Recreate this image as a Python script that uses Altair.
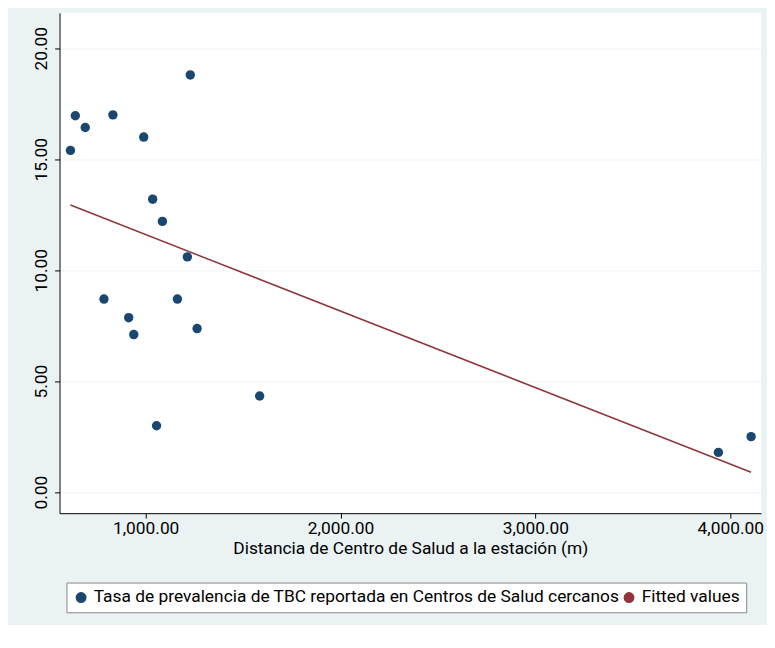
import altair as alt
import pandas as pd

# distance (m) and prevalence rate
distancia = [614, 639, 690, 832, 990, 1036, 1086, 1229, 1214, 786, 1163,
             913, 939, 1264, 1585, 1056, 3939, 4107]
tasa = [15.4, 16.96, 16.43, 17.0, 16.0, 13.2, 12.2, 18.8, 10.6, 8.7, 8.7,
        7.86, 7.1, 7.37, 4.33, 2.99, 1.79, 2.5]

lab_pts = "Tasa de prevalencia de TBC reportada en Centros de Salud cercanos"
lab_fit = "Fitted values"

df = pd.DataFrame({"dist": distancia, "tasa": tasa})

font = "Roboto"
fs = 17.5
x = alt.X("dist:Q", title="Distancia de Centro de Salud a la estación (m)",
          scale=alt.Scale(domain=[558, 4158], nice=False, zero=False),
          axis=alt.Axis(values=[1000, 2000, 3000, 4000], format=",.2f", grid=False,
                        labelFontSize=fs, titleFontSize=fs, labelColor="#000",
                        titleColor="#000", titleFontWeight="normal", domainColor="#000",
                        tickColor="#000", labelFont=font, titleFont=font, titlePadding=2))
y = alt.Y("tasa:Q", title=None,
          scale=alt.Scale(domain=[-0.95, 21.6], nice=False, zero=False),
          axis=alt.Axis(values=[0, 5, 10, 15, 20], format=",.2f", labelAngle=270,
                        labelAlign="center", labelBaseline="bottom", labelPadding=4,
                        gridColor="#EAF2F3", labelFontSize=fs, labelColor="#000",
                        domainColor="#000", tickColor="#000", labelFont=font))

color = alt.Color("serie:N", scale=alt.Scale(domain=[lab_pts, lab_fit],
                                             range=["#1A476F", "#90353B"]),
                  legend=alt.Legend(title=None, orient="none", legendX=7, legendY=575,
                                    direction="horizontal", labelFontSize=fs,
                                    labelFont=font, labelColor="#000",
                                    strokeColor="#888", fillColor="#fff", padding=6,
                                    labelLimit=600, columnPadding=0, symbolSize=90))

puntos = alt.Chart(df).mark_point(filled=True, size=90, opacity=1, shape="circle").encode(
    x=x, y=y, color=color
).transform_calculate(serie=f"'{lab_pts}'")

recta = alt.Chart(df).transform_regression("dist", "tasa").transform_calculate(
    serie=f"'{lab_fit}'"
).mark_line(strokeWidth=1.5).encode(x=x, y=y, color=color)

chart = alt.layer(puntos, recta).properties(
    width=708, height=505,
    autosize=alt.AutoSizeParams(type="none"),
    padding={"left": 52, "top": 2, "right": 6, "bottom": 110},
    background="#EAF2F3",
).configure_view(fill="#fff", stroke=None)

chart.save("out.html", embed_options={"renderer": "svg", "actions": False})
